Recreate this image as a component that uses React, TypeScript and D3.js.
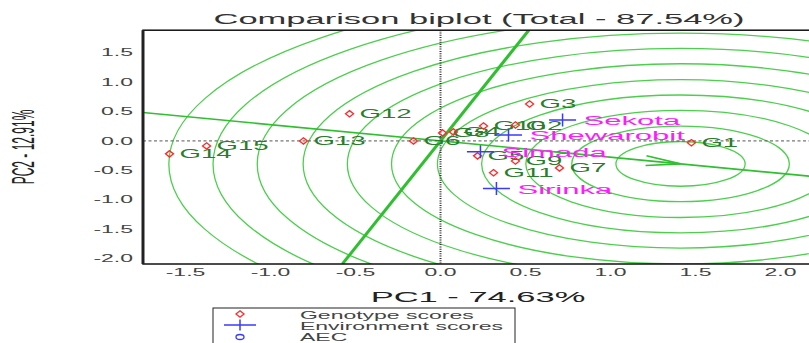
import React from 'react';
import * as d3 from 'd3';

const W = 809;
const H = 343;
const FONT = '"Liberation Sans", Arial, sans-serif';
const SX = 2.3; // horizontal stretch of the text in the picture

// genotype scores (PC1, PC2)
const GENOTYPES = ['G1', 'G2', 'G3', 'G4', 'G5', 'G6', 'G7', 'G8', 'G9', 'G10', 'G11', 'G12', 'G13', 'G14', 'G15'];
const G_PC1 = [1.476, 0.441, 0.524, 0.076, 0.218, -0.159, 0.7, 0.012, 0.441, 0.253, 0.312, -0.535, -0.806, -1.594, -1.376];
const G_PC2 = [-0.03, 0.27, 0.627, 0.153, -0.254, 0.0, -0.458, 0.136, -0.34, 0.254, -0.54, 0.46, 0.0, -0.22, -0.085];

// environment scores
const ENVS = ['Sekota', 'Shewarobit', 'Simada', 'Sirinka'];
const E_PC1 = [0.718, 0.4, 0.235, 0.329];
const E_PC2 = [0.356, 0.1, -0.186, -0.81];

// ideal genotype and concentric circle radii
const IDEAL = [1.412, -0.39];
const RADII = [0.38, 0.64, 0.91, 1.17, 1.43, 1.7, 1.96, 2.22, 2.49, 2.75, 3.01];

const X_TICKS = [-1.5, -1.0, -0.5, 0.0, 0.5, 1.0, 1.5, 2.0];
const Y_TICKS = [-2.0, -1.5, -1.0, -0.5, 0.0, 0.5, 1.0, 1.5];

const PLOT = { left: 143, top: 30.2, right: 831.5, bottom: 264 };

const x = d3.scaleLinear().domain([-1.75, 2.3]).range([PLOT.left, PLOT.right]);
const y = d3.scaleLinear().domain([-2.09, 1.88]).range([PLOT.bottom, PLOT.top]);

function SText({ x, y, text, size, anchor = 'start', fill = '#333', sx = SX }) {
  return (
    <text
      transform={`translate(${x},${y}) scale(${sx},1)`}
      textAnchor={anchor}
      fontSize={size}
      fontFamily={FONT}
      fill={fill}
    >
      {text}
    </text>
  );
}

function diamond(cx: number, cy: number) {
  return `M${cx},${cy - 3.2} L${cx + 4},${cy} L${cx},${cy + 3.2} L${cx - 4},${cy} Z`;
}

export default function App() {
  const [dom0, dom1] = x.domain();
  const [ydom0, ydom1] = y.domain();

  // average environment axis through origin and ideal genotype
  const slope = IDEAL[1] / IDEAL[0];
  const aec = d3.line<number[]>()([
    [x(dom0), y(slope * dom0)],
    [x(dom1), y(slope * dom1)],
  ]);
  const perp = d3.line<number[]>()([
    [x(ydom0 * -slope), y(ydom0)],
    [x(ydom1 * -slope), y(ydom1)],
  ]);

  // open arrow head at the ideal genotype
  const tipX = x(IDEAL[0]);
  const tipY = y(IDEAL[1]);
  const ang = Math.atan2(y(IDEAL[1]) - y(0), x(IDEAL[0]) - x(0));
  const back = ang + Math.PI;
  const half = (8 * Math.PI) / 180;
  const L = 35;
  const arrow = `M${tipX + L * Math.cos(back - half)},${tipY + L * Math.sin(back - half)} L${tipX},${tipY} L${tipX + L * Math.cos(back + half)},${tipY + L * Math.sin(back + half)}`;

  const kx = x(1) - x(0);
  const ky = y(0) - y(1);

  return (
    <div style={{ position: 'absolute', left: 0, top: 0 }}>
      <svg width={W} height={H} style={{ display: 'block', background: '#fff' }}>
        <defs>
          <clipPath id="plot-clip">
            <rect x={PLOT.left} y={PLOT.top} width={PLOT.right - PLOT.left} height={PLOT.bottom - PLOT.top} />
          </clipPath>
        </defs>

        <SText x={479} y={24} text="Comparison biplot (Total - 87.54%)" size={15} anchor="middle" fill="#333" />

        <g clipPath="url(#plot-clip)">
          {RADII.map((r) => (
            <ellipse
              key={r}
              cx={x(IDEAL[0])}
              cy={y(IDEAL[1])}
              rx={r * kx}
              ry={r * ky}
              fill="none"
              stroke="#4ccf4c"
              strokeWidth={1.3}
            />
          ))}

          <line x1={PLOT.left} x2={PLOT.right} y1={y(0)} y2={y(0)} stroke="#555" strokeWidth={1} strokeDasharray="3,2.5" />
          <line x1={x(0)} x2={x(0)} y1={PLOT.top} y2={PLOT.bottom} stroke="#333" strokeWidth={2} strokeDasharray="1,1.3" />

          <path d={aec} stroke="#2fbf2f" strokeWidth={1.6} fill="none" />
          <path d={perp} stroke="#2fbf2f" strokeWidth={3} fill="none" />
          <path d={arrow} stroke="#2fbf2f" strokeWidth={1.6} fill="none" />

          {GENOTYPES.map((g, i) => (
            <SText key={g} x={x(G_PC1[i]) + 10} y={y(G_PC2[i]) + 4.5} text={g} size={12} fill="#2a7d2a" />
          ))}
          {GENOTYPES.map((g, i) => (
            <path key={g} d={diamond(x(G_PC1[i]), y(G_PC2[i]))} fill="none" stroke="#ff2a2a" strokeWidth={1.3} />
          ))}

          {ENVS.map((e, i) => (
            <g key={e}>
              <line x1={x(E_PC1[i]) - 13.5} x2={x(E_PC1[i]) + 13.5} y1={y(E_PC2[i])} y2={y(E_PC2[i])} stroke="#3a3aff" strokeWidth={1.5} />
              <line x1={x(E_PC1[i])} x2={x(E_PC1[i])} y1={y(E_PC2[i]) - 6.5} y2={y(E_PC2[i]) + 6.5} stroke="#3a3aff" strokeWidth={1.5} />
              <SText x={x(E_PC1[i]) + 21} y={y(E_PC2[i]) + 5} text={e} size={13.5} fill="#ff1aff" />
            </g>
          ))}
        </g>

        {/* frame */}
        <rect
          x={PLOT.left}
          y={PLOT.top}
          width={PLOT.right - PLOT.left}
          height={PLOT.bottom - PLOT.top}
          fill="none"
          stroke="#111"
          strokeWidth={1.5}
        />
        <line x1={PLOT.left} x2={PLOT.left} y1={PLOT.top} y2={PLOT.bottom} stroke="#222" strokeWidth={3} />

        {X_TICKS.map((t) => (
          <SText key={t} x={x(t)} y={276} text={t.toFixed(1)} size={10} anchor="middle" fill="#444" />
        ))}
        {Y_TICKS.map((t) => (
          <SText key={t} x={133} y={y(t) + 3.6} text={t.toFixed(1)} size={10} anchor="end" fill="#444" />
        ))}

        <SText x={478} y={302} text="PC1 - 74.63%" size={15} anchor="middle" fill="#222" />
        <text
          transform="translate(34,147) rotate(-90) scale(1,2.6)"
          textAnchor="middle"
          fontSize={12}
          fontFamily={FONT}
          fill="#222"
        >
          PC2 - 12.91%
        </text>

        {/* legend */}
        <rect x={213} y={308} width={302} height={50} fill="#fff" stroke="#222" strokeWidth={1} />
        <path d={diamond(240, 314)} fill="none" stroke="#ff2a2a" strokeWidth={1.3} />
        <line x1={224} x2={256} y1={325} y2={325} stroke="#3a3aff" strokeWidth={1.5} />
        <line x1={240} x2={240} y1={319.5} y2={330.5} stroke="#3a3aff" strokeWidth={1.5} />
        <ellipse cx={240} cy={337} rx={4} ry={2.5} fill="none" stroke="#3a3aff" strokeWidth={1.3} />
        <SText x={300} y={318.5} text="Genotype scores" size={10} fill="#444" />
        <SText x={300} y={329.5} text="Environment scores" size={10} fill="#444" />
        <SText x={300} y={341} text="AEC" size={10} fill="#444" />
      </svg>
    </div>
  );
}
